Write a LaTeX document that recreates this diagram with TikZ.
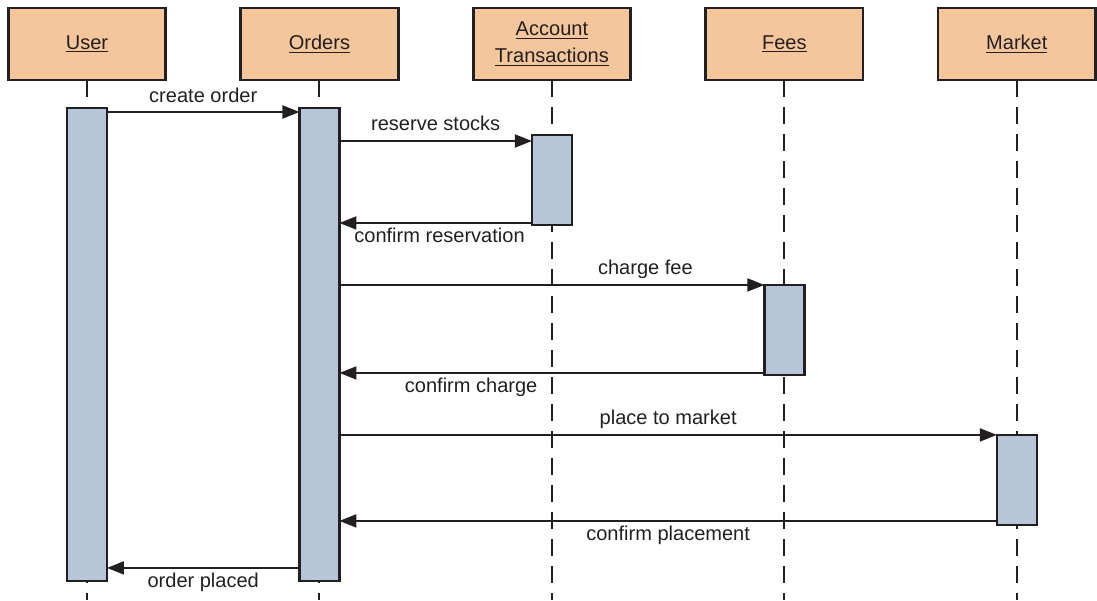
\documentclass[tikz,border=0pt]{standalone}
\usepackage{fontspec}
\setmainfont{Liberation Sans}
\usetikzlibrary{calc,positioning,arrows.meta}
\definecolor{Ink}{HTML}{231F20}
\definecolor{HeadFill}{HTML}{F5C69B}
\definecolor{BarFill}{HTML}{B6C5D8}

\begin{document}
\begin{tikzpicture}[x=0.02cm,y=-0.02cm,node distance=1.5cm,
  every node/.style={align=center,font=\fontsize{11.4}{13.6}\selectfont,text=Ink},
  head/.style={draw=Ink,fill=HeadFill,line width=1.5pt,minimum width=3.15cm,minimum height=1.44cm,inner sep=0pt,outer sep=0pt},
  bar/.style={draw=Ink,fill=BarFill,line width=1.5pt,minimum width=.8cm,inner sep=0pt,outer sep=0pt},
  life/.style={Ink,line width=1.1pt,dash pattern=on .34cm off .2cm},
  msg/.style={Ink,line width=1.1pt,-{Triangle[length=.34cm,width=.26cm]}},
  lblup/.style={anchor=base,yshift=.2cm,inner sep=0pt},
  lbldown/.style={anchor=base,yshift=-.4cm,inner sep=0pt}]
\useasboundingbox (0,0) rectangle (1097,600);
% participants
\node[head] (user) at (87,44) {\underline{User}};
\node[head,right=of user] (orders) {\underline{Orders}};
\node[head,right=of orders] (acct) {\underline{Account}\\[2pt]\underline{Transactions}};
\node[head,right=of acct] (fees) {\underline{Fees}};
\node[head,right=of fees] (market) {\underline{Market}};
% lifelines
\draw[life] (user.south) -- ++(0,-10.4cm);
\draw[life] (orders.south) -- ++(0,-10.4cm);
\draw[life] (acct.south) -- ++(0,-10.4cm);
\draw[life] (fees.south) -- ++(0,-10.4cm);
\draw[life] (market.south) -- ++(0,-10.4cm);
% activations
\node[bar,minimum height=9.46cm,below=.56cm of user] (userbar) {};
\node[bar,minimum height=9.46cm,below=.56cm of orders] (ordersbar) {};
\node[bar,minimum height=1.8cm,below=1.1cm of acct] (acctbar) {};
\node[bar,minimum height=1.8cm,below=4.1cm of fees] (feesbar) {};
\node[bar,minimum height=1.8cm,below=7.1cm of market] (marketbar) {};
% messages
\coordinate (m1) at ([yshift=-.08cm]userbar.north east);
\coordinate (m2) at ([yshift=-.12cm]acctbar.north west);
\coordinate (m3) at ([yshift=.04cm]acctbar.south west);
\coordinate (m5) at ([yshift=.04cm]feesbar.south west);
\coordinate (m7) at ([yshift=.08cm]marketbar.south west);
\coordinate (m8) at ([yshift=.26cm]ordersbar.south west);
\draw[msg] (m1) -- (m1 -| ordersbar.west) node[midway,lblup] {create order};
\draw[msg] (ordersbar.east |- m2) -- (m2) node[midway,lblup] {reserve stocks};
\draw[msg] (m3) -- (m3 -| ordersbar.east) node[pos=.48,lbldown] {confirm reservation};
\draw[msg] (ordersbar.east |- feesbar.north west) -- (feesbar.north west) node[pos=.72,lblup] {charge fee};
\draw[msg] (m5) -- (m5 -| ordersbar.east) node[pos=.69,lbldown] {confirm charge};
\draw[msg] (ordersbar.east |- marketbar.north west) -- (marketbar.north west) node[midway,lblup] {place to market};
\draw[msg] (m7) -- (m7 -| ordersbar.east) node[midway,lbldown] {confirm placement};
\draw[msg] (m8) -- (m8 -| userbar.east) node[midway,lbldown] {order placed};
\end{tikzpicture}
\end{document}
